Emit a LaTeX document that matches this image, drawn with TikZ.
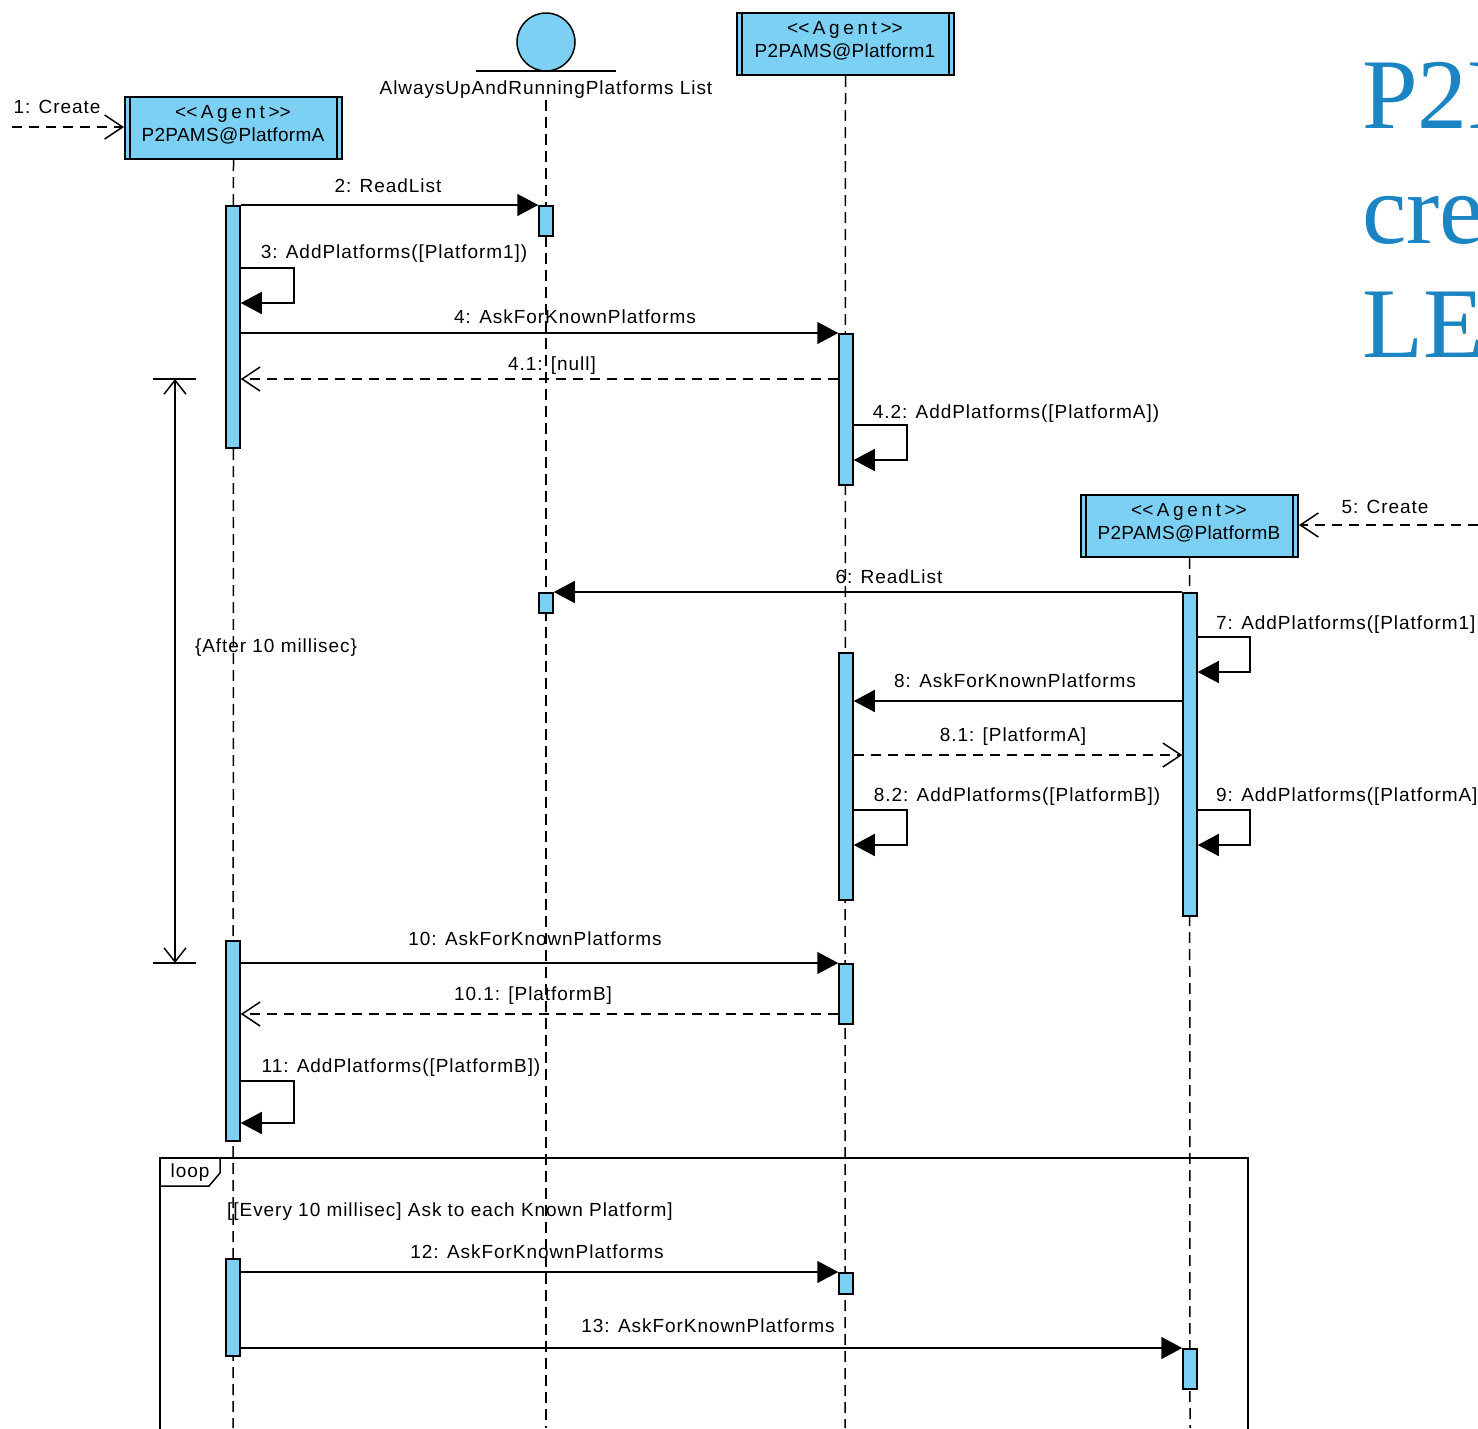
\documentclass[tikz,border=0pt]{standalone}
\usepackage{fontspec}
\setmainfont{Liberation Sans}
\newfontfamily\msgfont[LetterSpace=5]{Liberation Sans}
\newfontfamily\nmfont[LetterSpace=1.5]{Liberation Sans}
\newfontfamily\stfont[LetterSpace=19]{Liberation Sans}
\newfontfamily\bigserif{Liberation Serif}
\usetikzlibrary{arrows.meta,calc}
\definecolor{actfill}{RGB}{124,208,243}
\definecolor{titleblue}{RGB}{27,133,196}
\tikzset{
  lifeline/.style={line width=1.5pt, dash pattern=on 11pt off 6pt},
  act/.style={draw, line width=1.5pt, fill=actfill, minimum width=14pt, inner sep=0pt, anchor=north},
  hdr/.style={draw, line width=2pt, fill=actfill, minimum width=217pt, minimum height=62pt, inner sep=0pt},
  inner/.style={line width=1.5pt},
  sync/.style={line width=1.5pt, -{Triangle[length=21pt,width=22pt]}},
  reply/.style={line width=1.5pt, dash pattern=on 10pt off 7pt, -{Straight Barb[length=18pt,width=24pt,line width=1.5pt]}},
  lbl/.style={font={\msgfont\fontsize{19}{22}\selectfont}, inner sep=0pt, anchor=base},
  lblw/.style={lbl, anchor=base west},
  stlbl/.style={font={\stfont\fontsize{19}{22}\selectfont}, inner sep=0pt, anchor=base},
  nmlbl/.style={font={\nmfont\fontsize{19}{22}\selectfont}, inner sep=0pt, anchor=base},
  big/.style={font={\bigserif\fontsize{100}{110}\selectfont}, text=titleblue, inner sep=0pt, anchor=base west},
  frame/.style={line width=1.5pt},
  dur/.style={line width=1.5pt, {Straight Barb[length=14pt,width=22pt,line width=1.5pt]}-{Straight Barb[length=14pt,width=22pt,line width=1.5pt]}}
}
\newcommand\actbar[4]{\node[act, minimum height={#4-#3}] (#1) at (#2,#3) {};}
\begin{document}
\begin{tikzpicture}[x=1pt,y=-1pt]
\useasboundingbox[fill=white] (0,0) rectangle (1478,1428);

% title fragments (cut off at the right edge as in the reference)
\node[big] (t1) at (1362,128) {P2P};
\node[big] (t2) at (1362,243) {cre};
\node[big] (t3) at (1362,357) {LE};

% headers
\node[hdr] (hA) at (233.5,128) {};
\node[hdr] (hP) at (845.5,44) {};
\node[hdr] (hB) at (1189.5,526) {};
\foreach \h in {hA,hP,hB}{
  \draw[inner] ([xshift=6pt]\h.north west) -- ([xshift=6pt]\h.south west);
  \draw[inner] ([xshift=-6pt]\h.north east) -- ([xshift=-6pt]\h.south east);
}
\node[stlbl] (hAs) at (233,118) {<\kern0pt<Agent>\kern0pt>};
\node[nmlbl] (hAn) at (233,141) {P2PAMS@PlatformA};
\node[stlbl] (hPs) at (845,34) {<\kern0pt<Agent>\kern0pt>};
\node[nmlbl] (hPn) at (845,57) {P2PAMS@Platform1};
\node[stlbl] (hBs) at (1189,516) {<\kern0pt<Agent>\kern0pt>};
\node[nmlbl] (hBn) at (1189,539) {P2PAMS@PlatformB};

% actor
\node[circle, draw, fill=actfill, minimum size=58pt, line width=1.5pt, inner sep=0pt] (actor) at (546,42) {};
\coordinate (alL) at (476,71);
\coordinate (alR) at (616,71);
\draw[line width=1.5pt] (alL) -- (alR);
\node[lbl] (lst) at (546,94) {AlwaysUpAndRunningPlatforms List};

% lifelines
\coordinate (eA) at (233,1428);
\coordinate (eL) at (546,1428);
\coordinate (eP) at (845,1428);
\coordinate (eB) at (1190,1428);
\draw[lifeline] (hA.south) -- (eA);
\draw[lifeline] (lst.south |- 0,100) -- (eL);
\draw[lifeline] (hP.south) -- (eP);
\draw[lifeline] (hB.south) -- (eB);

% loop frame
\coordinate (fL) at (160,1445);
\coordinate (fTL) at (160,1158);
\coordinate (fTR) at (1248,1158);
\coordinate (fR) at (1248,1445);
\draw[frame] (fL) -- (fTL) -- (fTR) -- (fR);
\coordinate (lp1) at (220,1158);
\coordinate (lp2) at (220,1173);
\coordinate (lp3) at (209,1186);
\coordinate (lp4) at (160,1186);
\draw[frame] (lp1) -- (lp2) -- (lp3) -- (lp4);
\node[lbl] (loop) at (190,1177) {loop};
\node[lblw] (guard) at (227,1216) {[[Every 10 millisec] Ask to each Known Platform]};

% activations
\actbar{A1}{233}{205}{447}
\actbar{L1}{546}{205}{235}
\actbar{P1a}{846}{333}{484}
\actbar{L2}{546}{592}{612}
\actbar{B1}{1190}{592}{915}
\actbar{P1b}{846}{652}{899}
\actbar{A2}{233}{940}{1140}
\actbar{P1c}{846}{963}{1023}
\actbar{A3}{233}{1258}{1355}
\actbar{P1d}{846}{1272}{1293}
\actbar{B2}{1190}{1348}{1388}

% messages
\coordinate (c1) at (12,127);
\draw[reply] (c1) -- (hA.west |- c1);
\node[lbl] (m1) at (57,113) {1: Create};

\draw[sync] (A1.north east) -- (L1.north west);
\node[lbl] (m2) at (388,192) {2: ReadList};

\draw[sync] (A1.east |- 0,268) -- ++(53,0) -- ++(0,35) -- (A1.east |- 0,303);
\node[lbl] (m3) at (394,258) {3: AddPlatforms([Platform1])};

\draw[sync] (A1.east |- P1a.north) -- (P1a.north west);
\node[lbl] (m4) at (575,323) {4: AskForKnownPlatforms};

\draw[reply] (P1a.west |- 0,379) -- (A1.east |- 0,379);
\node[lbl] (m41) at (552,370) {4.1: [null]};

\draw[sync] (P1a.east |- 0,425) -- ++(53,0) -- ++(0,35) -- (P1a.east |- 0,460);
\node[lbl] (m42) at (1016,418) {4.2: AddPlatforms([PlatformA])};

\coordinate (c5) at (1478,525);
\draw[reply] (c5) -- (hB.east |- c5);
\node[lbl] (m5) at (1385,513) {5: Create};

\draw[sync] (B1.north west) -- (L2.north east);
\node[lbl] (m6) at (889,583) {6: ReadList};

\draw[sync] (B1.east |- 0,637) -- ++(52,0) -- ++(0,35) -- (B1.east |- 0,672);
\node[lblw] (m7) at (1216,629) {7: AddPlatforms([Platform1]};

\draw[sync] (B1.west |- 0,701) -- (P1b.east |- 0,701);
\node[lbl] (m8) at (1015,687) {8: AskForKnownPlatforms};

\draw[reply] (P1b.east |- 0,755) -- (B1.west |- 0,755);
\node[lbl] (m81) at (1013,741) {8.1: [PlatformA]};

\draw[sync] (P1b.east |- 0,810) -- ++(53,0) -- ++(0,35) -- (P1b.east |- 0,845);
\node[lbl] (m82) at (1017,801) {8.2: AddPlatforms([PlatformB])};

\draw[sync] (B1.east |- 0,810) -- ++(52,0) -- ++(0,35) -- (B1.east |- 0,845);
\node[lblw] (m9) at (1216,801) {9: AddPlatforms([PlatformA]};

\draw[sync] (A2.east |- P1c.north) -- (P1c.north west);
\node[lbl] (m10) at (535,945) {10: AskForKnownPlatforms};

\draw[reply] (P1c.west |- 0,1014) -- (A2.east |- 0,1014);
\node[lbl] (m101) at (533,1000) {10.1: [PlatformB]};

\draw[sync] (A2.east |- 0,1081) -- ++(53,0) -- ++(0,42) -- (A2.east |- 0,1123);
\node[lbl] (m11) at (401,1072) {11: AddPlatforms([PlatformB])};

\draw[sync] (A3.east |- P1d.north) -- (P1d.north west);
\node[lbl] (m12) at (537,1258) {12: AskForKnownPlatforms};

\draw[sync] (A3.east |- B2.north) -- (B2.north west);
\node[lbl] (m13) at (708,1332) {13: AskForKnownPlatforms};

% duration constraint
\coordinate (d1) at (175,379);
\coordinate (d2) at (175,963);
\coordinate (d1l) at (153,379);
\coordinate (d1r) at (196,379);
\coordinate (d2l) at (153,963);
\coordinate (d2r) at (196,963);
\draw[line width=1.5pt] (d1l) -- (d1r);
\draw[line width=1.5pt] (d2l) -- (d2r);
\draw[dur] (d1) -- (d2);
\node[lbl] (after) at (276,652) {\{After 10 millisec\}};
\end{tikzpicture}
\end{document}
